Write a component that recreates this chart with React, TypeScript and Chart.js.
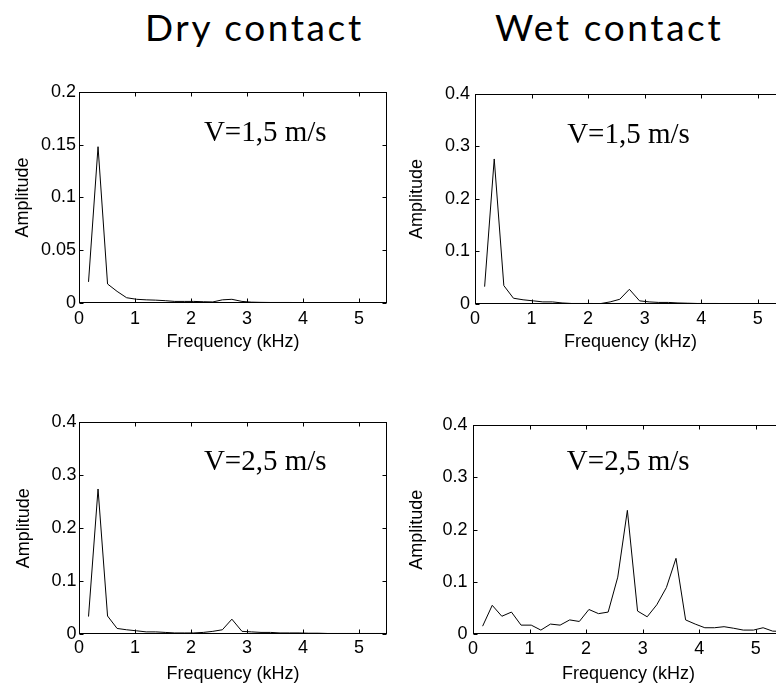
import React, { useEffect, useRef } from "react";
import { Chart, registerables } from "chart.js";

Chart.register(...registerables);

// ---------- data ----------
const freqKHz = [
  0.17, 0.34, 0.51, 0.68, 0.85, 1.03, 1.2, 1.37, 1.54, 1.71, 1.88, 2.05, 2.22, 2.39, 2.56, 2.73,
  2.91, 3.08, 3.25, 3.42, 3.59, 3.76, 3.93, 4.1, 4.27, 4.44, 4.61, 4.78, 4.96, 5.13, 5.3, 5.47,
];
const dry15 = [
  0.02, 0.148, 0.018, 0.011, 0.005, 0.0035, 0.003, 0.0027, 0.0022, 0.0015, 0.0015, 0.0015, 0.0012,
  0.001, 0.003, 0.0035, 0.0015, 0.0008, 0.0006, 0.0005, 0.0005, 0.0005, 0.0004, 0.0004, 0.0004,
  0.0003, 0.0003, 0.0003, 0.0003, 0.0003, 0.0003, 0.0003,
];
const wet15 = [
  0.033, 0.276, 0.035, 0.011, 0.008, 0.006, 0.004, 0.004, 0.002, 0.001, 0.001, 0.001, 0.0008,
  0.004, 0.009, 0.028, 0.006, 0.004, 0.003, 0.003, 0.002, 0.0015, 0.001, 0.001, 0.001, 0.0008,
  0.0008, 0.0008, 0.0006, 0.0006, 0.0006, 0.0006,
];
const dry25 = [
  0.033, 0.274, 0.034, 0.0105, 0.008, 0.006, 0.004, 0.004, 0.003, 0.002, 0.002, 0.002, 0.003,
  0.005, 0.008, 0.028, 0.005, 0.004, 0.003, 0.003, 0.002, 0.002, 0.002, 0.0015, 0.0015, 0.001,
  0.001, 0.001, 0.001, 0.001, 0.001, 0.001,
];
const wet25 = [
  0.015, 0.055, 0.034, 0.042, 0.017, 0.017, 0.0075, 0.019, 0.017, 0.027, 0.024, 0.047, 0.039,
  0.042, 0.109, 0.237, 0.044, 0.033, 0.056, 0.089, 0.145, 0.027, 0.019, 0.012, 0.012, 0.014,
  0.011, 0.0075, 0.0075, 0.012, 0.0055, 0.005,
];
const xTicks = [0, 1, 2, 3, 4, 5];
const yTicksSmall = [0, 0.05, 0.1, 0.15, 0.2];
const yTicksLarge = [0, 0.1, 0.2, 0.3, 0.4];
const columnTitles = ["Dry contact", "Wet contact"];
const speedLabels = ["V=1,5 m/s", "V=2,5 m/s"];
const xAxisTitle = "Frequency (kHz)";
const yAxisTitle = "Amplitude";
const X_MAX = 5.5;

// ---------- layout ----------
const SANS = '"Liberation Sans", Arial, Helvetica, sans-serif';
const SERIF = '"Liberation Serif", "Times New Roman", serif';

type PanelCfg = {
  values: number[];
  yTicks: number[];
  yMax: number;
  note: string;
  noteAt: [number, number];
  box: { left: number; top: number; width: number; height: number };
  plot: { left: number; top: number; right: number; bottom: number };
  xTickPad: number;
  xTitlePad: number;
  yTickPad: number;
  yTitlePad: number;
};

const panels: PanelCfg[] = [
  {
    values: dry15, yTicks: yTicksSmall, yMax: 0.2, note: speedLabels[0], noteAt: [2.23, 0.1535],
    box: { left: 0, top: 78, width: 390, height: 280 },
    plot: { left: 79, top: 88, right: 387, bottom: 303 },
    xTickPad: 5, xTitlePad: 7, yTickPad: 3, yTitlePad: 14,
  },
  {
    values: wet15, yTicks: yTicksLarge, yMax: 0.4, note: speedLabels[0], noteAt: [1.63, 0.307],
    box: { left: 390, top: 78, width: 400, height: 280 },
    plot: { left: 475, top: 88, right: 786, bottom: 304 },
    xTickPad: 4.5, xTitlePad: 7, yTickPad: 5, yTitlePad: 18.5,
  },
  {
    values: dry25, yTicks: yTicksLarge, yMax: 0.4, note: speedLabels[1], noteAt: [2.23, 0.3107],
    box: { left: 0, top: 409, width: 390, height: 274 },
    plot: { left: 79, top: 419, right: 387, bottom: 634 },
    xTickPad: 3.5, xTitlePad: 0, yTickPad: 2.5, yTitlePad: 15,
  },
  {
    values: wet25, yTicks: yTicksLarge, yMax: 0.4, note: speedLabels[1], noteAt: [1.66, 0.3144],
    box: { left: 390, top: 409, width: 400, height: 274 },
    plot: { left: 473, top: 419, right: 784, bottom: 634 },
    xTickPad: 4, xTitlePad: 0, yTickPad: 5.5, yTitlePad: 18,
  },
];

const framePlugin = {
  id: "matlabFrame",
  afterDatasetsDraw(chart: any) {
    const { ctx, chartArea: a, scales } = chart;
    const x = scales.x;
    const y = scales.y;
    ctx.save();
    ctx.strokeStyle = "#000";
    ctx.lineWidth = 1;
    const L = Math.round(a.left) + 0.5;
    const R = Math.round(a.right) - 0.5;
    const T = Math.round(a.top) + 0.5;
    const B = Math.round(a.bottom) - 0.5;
    ctx.strokeRect(L, T, R - L, B - T);
    const len = 4;
    ctx.beginPath();
    for (const t of x.ticks) {
      const px = Math.round(x.getPixelForValue(t.value)) + 0.5;
      ctx.moveTo(px, B);
      ctx.lineTo(px, B - len);
      ctx.moveTo(px, T);
      ctx.lineTo(px, T + len);
    }
    for (const t of y.ticks) {
      const py = Math.round(y.getPixelForValue(t.value)) + 0.5;
      ctx.moveTo(L, py);
      ctx.lineTo(L + len, py);
      ctx.moveTo(R, py);
      ctx.lineTo(R - len, py);
    }
    ctx.stroke();
    ctx.restore();
  },
};

function Panel({ cfg }: { cfg: PanelCfg }) {
  const ref = useRef<HTMLCanvasElement>(null);
  useEffect(() => {
    const c = cfg;
    const yW = c.plot.left - c.box.left;
    const padTop = c.plot.top - c.box.top;
    const padRight = c.box.left + c.box.width - c.plot.right;
    const xH = c.box.top + c.box.height - c.plot.bottom;
    const notePlugin = {
      id: "speedNote",
      afterDatasetsDraw(chart: any) {
        const { ctx, scales } = chart;
        ctx.save();
        ctx.fillStyle = "#000";
        ctx.font = `29px ${SERIF}`;
        ctx.textAlign = "left";
        ctx.textBaseline = "alphabetic";
        ctx.fillText(c.note, scales.x.getPixelForValue(c.noteAt[0]), scales.y.getPixelForValue(c.noteAt[1]));
        ctx.restore();
      },
    };
    const chart = new Chart(ref.current as HTMLCanvasElement, {
      type: "line",
      data: {
        datasets: [
          {
            data: freqKHz.map((f, i) => ({ x: f, y: c.values[i] })),
            borderColor: "#000",
            borderWidth: 1,
            pointRadius: 0,
            fill: false,
            tension: 0,
          },
        ],
      },
      options: {
        animation: false,
        responsive: false,
        devicePixelRatio: 1,
        events: [],
        layout: { padding: { left: 0, top: padTop, right: padRight, bottom: 0 }, autoPadding: false },
        plugins: { legend: { display: false }, tooltip: { enabled: false } },
        scales: {
          x: {
            type: "linear",
            min: 0,
            max: X_MAX,
            afterBuildTicks: (s: any) => {
              s.ticks = xTicks.map((v) => ({ value: v }));
            },
            afterFit: (s: any) => {
              s.height = xH;
            },
            grid: { display: false, drawTicks: false },
            border: { display: false },
            ticks: {
              padding: c.xTickPad,
              color: "#000",
              font: { family: SANS, size: 18 },
              maxRotation: 0,
              autoSkip: false,
              callback: (v: any) => String(v),
            },
            title: {
              display: true,
              text: xAxisTitle,
              color: "#000",
              font: { family: SANS, size: 18, lineHeight: 1 },
              padding: { top: 0, bottom: c.xTitlePad },
            },
          },
          y: {
            type: "linear",
            min: 0,
            max: c.yMax,
            afterBuildTicks: (s: any) => {
              s.ticks = c.yTicks.map((v) => ({ value: v }));
            },
            afterFit: (s: any) => {
              s.width = yW;
            },
            grid: { display: false, drawTicks: false },
            border: { display: false },
            ticks: {
              padding: c.yTickPad,
              color: "#000",
              font: { family: SANS, size: 18 },
              autoSkip: false,
              callback: (v: any) => String(v),
            },
            title: {
              display: true,
              text: yAxisTitle,
              color: "#000",
              font: { family: SANS, size: 18, lineHeight: 1 },
              padding: { top: c.yTitlePad, bottom: 0 },
            },
          },
        },
      } as any,
      plugins: [framePlugin, notePlugin],
    });
    return () => chart.destroy();
  }, [cfg]);
  return (
    <canvas
      ref={ref}
      width={cfg.box.width}
      height={cfg.box.height}
      style={{ position: "absolute", left: cfg.box.left, top: cfg.box.top, display: "block" }}
    />
  );
}

const titleStyle: React.CSSProperties = {
  position: "absolute",
  top: 8,
  fontFamily: 'Lato, "DejaVu Sans", sans-serif',
  fontWeight: 400,
  fontSize: 37,
  lineHeight: "37px",
  letterSpacing: 2.6,
  color: "#000",
  whiteSpace: "nowrap",
};

export default function App() {
  return (
    <div
      style={{
        position: "fixed",
        left: 0,
        top: 0,
        width: 776,
        height: 683,
        overflow: "hidden",
        background: "#fff",
      }}
    >
      <div style={{ ...titleStyle, left: 145 }}>{columnTitles[0]}</div>
      <div style={{ ...titleStyle, left: 495 }}>{columnTitles[1]}</div>
      {panels.map((p, i) => (
        <Panel key={i} cfg={p} />
      ))}
    </div>
  );
}
